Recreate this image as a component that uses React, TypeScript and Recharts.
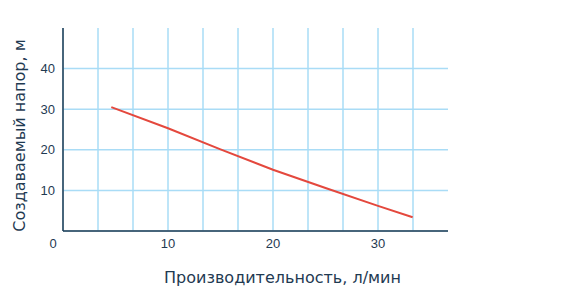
import React from 'react';
import { LineChart, Line, XAxis, YAxis, CartesianGrid } from 'recharts';

const flowValues = [4.6, 10, 15, 20, 25, 30, 33.3];
const headValues = [30.5, 25.3, 20.1, 15.1, 10.6, 6.2, 3.4];
const xTicks = [0, 10 / 3, 20 / 3, 10, 40 / 3, 50 / 3, 20, 70 / 3, 80 / 3, 30, 100 / 3];
const xLabels = [0, 10, 20, 30];
const yTicks = [0, 10, 20, 30, 40];
const xTitle = 'Производительность, л/мин';
const yTitle = 'Создаваемый напор, м';

const data = flowValues.map((f, i) => ({ flow: f, head: headValues[i] }));

const NAVY = '#1f3a52';
const GRID = '#a9dcf6';
const RED = '#e4483d';
const FONT = '"DejaVu Sans", sans-serif';

const XTick = (props: any) => {
  const { x, y, payload } = props;
  const v = payload.value;
  const isLabel = xLabels.some((l) => Math.abs(l - v) < 1e-6);
  if (!isLabel) return null;
  const shift = Math.abs(v) < 1e-6 ? -10 : 0;
  return (
    <text x={x + shift} y={y} dy={9} textAnchor="middle" fill={NAVY} fontSize={13} fontFamily='"Liberation Sans", Arial, sans-serif'>
      {Math.round(v)}
    </text>
  );
};

const YTick = (props: any) => {
  const { x, y, payload } = props;
  if (payload.value === 0) return null;
  return (
    <text x={x} y={y} dy={4.5} textAnchor="end" fill={NAVY} fontSize={13} fontFamily='"Liberation Sans", Arial, sans-serif'>
      {payload.value}
    </text>
  );
};

export default function App() {
  return (
    <div style={{ position: 'absolute', left: 0, top: 0, background: '#fff' }}>
      <LineChart width={580} height={298} data={data} margin={{ top: 28, right: 132, bottom: 37, left: 0 }}>
        <CartesianGrid stroke={GRID} strokeWidth={1.5} syncWithTicks />
        <XAxis
          dataKey="flow"
          type="number"
          domain={[0, 110 / 3]}
          ticks={xTicks}
          interval={0}
          tickLine={false}
          axisLine={{ stroke: NAVY, strokeWidth: 1.5 }}
          tick={<XTick />}
          height={30}
          label={{ value: xTitle, position: 'insideBottom', offset: -22, dx: 27, fill: NAVY, fontSize: 16, fontFamily: FONT }}
        />
        <YAxis
          type="number"
          domain={[0, 50]}
          ticks={yTicks}
          interval={0}
          tickLine={false}
          axisLine={{ stroke: NAVY, strokeWidth: 1.5 }}
          tick={<YTick />}
          width={63}
          label={{ value: yTitle, angle: -90, position: 'insideLeft', offset: 19, dy: 6, fill: NAVY, fontSize: 16, fontFamily: FONT, style: { textAnchor: 'middle' } }}
        />
        <Line type="linear" dataKey="head" stroke={RED} strokeWidth={2} dot={false} isAnimationActive={false} />
      </LineChart>
    </div>
  );
}
